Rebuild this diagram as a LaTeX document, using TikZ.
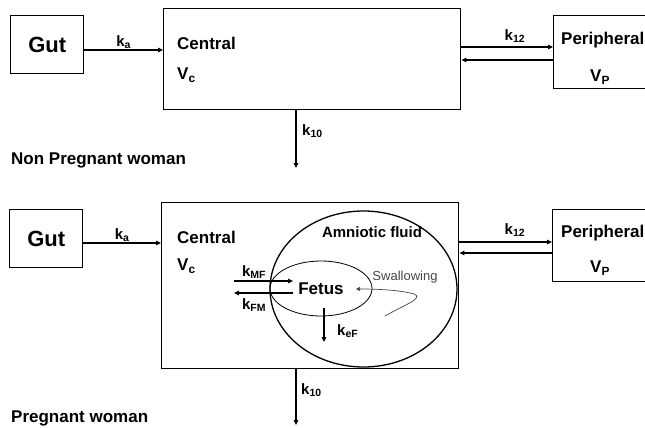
\documentclass[tikz,border=0pt]{standalone}
\usepackage{fontspec}
\setmainfont{Liberation Sans}
\usetikzlibrary{arrows.meta,shapes.geometric}
\definecolor{swallow}{RGB}{70,70,70}
\newcommand{\rk}[1]{k\textsubscript{#1}}

\begin{document}
\begin{tikzpicture}[x=1pt, y=-1pt,
    box/.style={draw, line width=1.4pt, anchor=north west, inner sep=0pt},
    flow/.style={line width=1.3pt, -{Triangle[length=5pt,width=4.5pt]}},
    lbl/.style={font=\fontsize{17}{19}\selectfont\bfseries, inner sep=0pt},
    rate/.style={font=\fontsize{15}{17}\selectfont\bfseries, inner sep=1pt},
    gutfont/.style={font=\fontsize{22}{24}\selectfont\bfseries}]
  \useasboundingbox (0,0) rectangle (645,428);
  \clip (0,0) rectangle (645,428);
  %% 1. Non pregnant woman
  \node[box, gutfont, minimum width=73pt, minimum height=58pt] (gut1) at (10,15) {Gut};
  \node[box, minimum width=297pt, minimum height=101pt] (central1) at (163,8) {};
  \node[box, minimum width=110pt, minimum height=73pt] (periph1) at (553,15) {};
  \node[lbl, anchor=west] (centralT1) at (177,43) {Central};
  \node[lbl, anchor=west] (vc1) at (177,75) {V\textsubscript{c}};
  \node[lbl, anchor=west] (periphT1) at (561,40) {Peripheral};
  \node[lbl, anchor=west] (vp1) at (590,77) {V\textsubscript{P}};
  \coordinate (ka1) at (0,50);
  \coordinate (in1) at (0,47);
  \coordinate (back1) at (0,60);
  \coordinate (out1) at (296,168);
  \draw[flow] (gut1.east |- ka1) -- node[rate, above] (kaT1) {\rk{a}} (central1.west |- ka1);
  \draw[flow] (central1.east |- in1) -- (periph1.west |- in1);
  \draw[flow] (periph1.west |- back1) -- (central1.east |- back1);
  \node[rate] (k12T1) at (515,36) {\rk{12}};
  \draw[flow] (central1.south -| out1) -- (out1);
  \node[rate, anchor=west] (k10T1) at (301,131) {\rk{10}};
  \node[lbl, anchor=west] (nonpreg) at (11,160) {Non Pregnant woman};
  %% 2. Pregnant woman
  \node[box, gutfont, minimum width=73pt, minimum height=58pt] (gut2) at (9,209) {Gut};
  \node[box, minimum width=297pt, minimum height=166pt] (central2) at (161,202) {};
  \node[box, minimum width=110pt, minimum height=72pt] (periph2) at (552,209) {};
  \node[lbl, anchor=west] (centralT2) at (177,237) {Central};
  \node[lbl, anchor=west] (vc2) at (177,266) {V\textsubscript{c}};
  \node[lbl, anchor=west] (periphT2) at (561,233) {Peripheral};
  \node[lbl, anchor=west] (vp2) at (590,268) {V\textsubscript{P}};
  \coordinate (ka2) at (0,243);
  \coordinate (in2) at (0,242);
  \coordinate (back2) at (0,253);
  \coordinate (out2) at (296,425);
  \draw[flow] (gut2.east |- ka2) -- node[rate, above] (kaT2) {\rk{a}} (central2.west |- ka2);
  \draw[flow] (central2.east |- in2) -- (periph2.west |- in2);
  \draw[flow] (periph2.west |- back2) -- (central2.east |- back2);
  \node[rate] (k12T2) at (515,230) {\rk{12}};
  \draw[flow] (central2.south -| out2) -- (out2);
  \node[rate, anchor=west] (k10T2) at (300,390) {\rk{10}};
  \node[lbl, anchor=west] (preg) at (11,418) {Pregnant woman};
  %% 3. Amniotic fluid and fetus
  \node[draw, ellipse, line width=1.3pt, minimum width=187pt, minimum height=156pt, inner sep=0pt] (amnio) at (363.5,289) {};
  \node[draw, ellipse, line width=0.8pt, minimum width=102pt, minimum height=55pt, inner sep=0pt,
        font=\fontsize{17}{19}\selectfont\bfseries] (fetus) at (321,288.5) {Fetus};
  \node[lbl, font=\fontsize{15}{17}\selectfont\bfseries] (amnioT) at (372,232) {Amniotic fluid};
  \node[font=\fontsize{13}{15}\selectfont, text=swallow, inner sep=0pt] (swallowT) at (405,277) {Swallowing};
  \coordinate (mfA) at (234,281);
  \coordinate (mfB) at (293,281);
  \coordinate (fmA) at (293,293);
  \coordinate (fmB) at (234,293);
  \draw[flow] (mfA) -- (mfB);
  \draw[flow] (fmA) -- (fmB);
  \node[rate] (kMF) at (254,272) {\rk{MF}};
  \node[rate] (kFM) at (254,305) {\rk{FM}};
  \coordinate (efA) at (324,308);
  \coordinate (efB) at (324,342);
  \draw[flow] (efA) -- (efB);
  \node[rate, anchor=west] (keF) at (336,331) {\rk{eF}};
  \coordinate (swA) at (385,316);
  \coordinate (swB) at (356,289);
  \draw[line width=0.7pt, swallow, -{Triangle[length=4pt,width=4pt]}]
    (swA) .. controls (402,306) and (425,298) .. (414,294)
          .. controls (400,290) and (378,289) .. (swB);
\end{tikzpicture}
\end{document}
